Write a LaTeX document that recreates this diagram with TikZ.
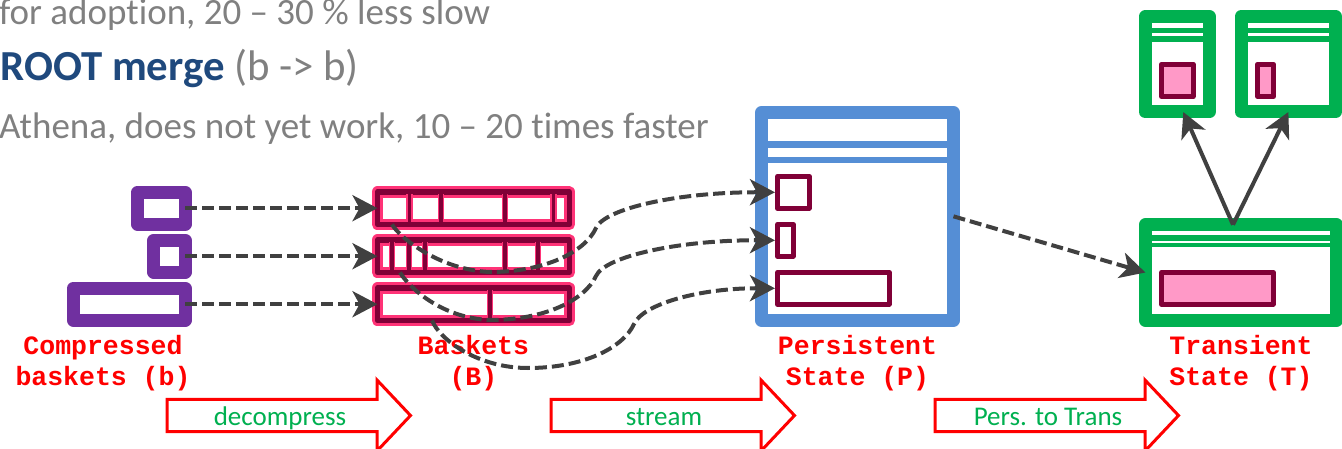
\documentclass[tikz,border=0pt]{standalone}
\usepackage{fontspec}
\setmainfont{Carlito}[Ligatures=NoCommon]
\newfontfamily\lblfont{Liberation Mono}
\usetikzlibrary{arrows.meta, positioning}

\definecolor{cpurple}{RGB}{112,48,160}
\definecolor{bskpink}{RGB}{255,51,119}
\definecolor{maroon}{RGB}{128,0,55}
\definecolor{pblue}{RGB}{85,142,213}
\definecolor{tgreen}{RGB}{0,176,80}
\definecolor{tpink}{RGB}{255,153,199}
\definecolor{arrgray}{RGB}{64,64,64}
\definecolor{notegray}{RGB}{128,128,128}
\definecolor{rootblue}{RGB}{31,73,125}

\begin{document}
\begin{tikzpicture}[x=1pt, y=1pt, node distance=15.5pt and 32pt,
    holder/.style={rectangle, draw=#1, line width=13pt, line join=round, inner sep=0pt, outer sep=0pt},
    item/.style={rectangle, draw=maroon, fill=#1, line width=5pt, line join=round, inner sep=0pt},
    basket/.style={rectangle, draw=bskpink, double=maroon, line width=3pt, double distance=5.5pt, line join=round, inner sep=0pt, outer sep=0pt, minimum width=191.8pt, minimum height=32.5pt},
    divider/.style={draw=bskpink, double=maroon, line width=1.7pt, double distance=3.3pt},
    stripe/.style={draw=#1, line width=6pt},
    arrow/.style={draw=arrgray, line width=4pt, -{Stealth[length=25pt, width=26pt, inset=7pt]}},
    dasharrow/.style={arrow, dash pattern=on 12pt off 5pt},
    flow/.style={draw=red, fill=white, line width=3pt},
    optext/.style={text=tgreen, font=\fontsize{27}{32}\selectfont, inner sep=0pt},
    lbl/.style={text=red, font=\lblfont\bfseries\fontsize{26.5}{31}\selectfont, align=center, inner sep=0pt},
    note/.style={text=notegray, font=\fontsize{37}{44}\selectfont, inner sep=0pt, anchor=base west}]

    \useasboundingbox (0,0) rectangle (1342,448);

    % slide text
    \node [note] (n1) at (-1,423) {for adoption, 20 – 30 \% less slow};
    \node [note] (n2) at (0.5,367) {\fontsize{42.8}{48}\selectfont\textcolor{rootblue}{\bfseries ROOT merge} (b -> b)};
    \node [note] (n3) at (-1,309.5) {Athena, does not yet work, 10 – 20 times faster};

    % compressed baskets
    \node [holder=cpurple, minimum width=47.7pt, minimum height=31.7pt] (c1) at (161.3,239.8) {};
    \node [holder=cpurple, minimum width=31.4pt, minimum height=31.7pt] (c2) at (169.5,191.8) {};
    \node [holder=cpurple, minimum width=112pt, minimum height=31.7pt] (c3) at (129.2,143.8) {};

    % baskets
    \node [basket] (bsk1) at (473.4,239.8) {};
    \node [basket, below=of bsk1] (bsk2) {};
    \node [basket, below=of bsk2] (bsk3) {};
    \foreach \y/\xs in {239.8/{409.3,441,505,553.3}, 191.8/{392,409,425,505,538}, 143.8/{490}}
        \foreach \x in \xs
            \draw [divider] (\x,\y+14) -- (\x,\y-14);

    % persistent state
    \node [holder=pblue, minimum width=192pt, minimum height=207.7pt] (ps) at (857.5,231.65) {};
    \draw [stripe=pblue, line width=7pt] (ps.west |- 0,303.8) -- (ps.east |- 0,303.8);
    \draw [stripe=pblue, line width=6.6pt] (ps.west |- 0,288) -- (ps.east |- 0,288);
    \node [item=white, minimum width=31.7pt, minimum height=31.7pt] (p1) at (793.3,255.7) {};
    \node [item=white, minimum width=15.7pt, minimum height=31.7pt] (p2) at (785.3,207.7) {};
    \node [item=white, minimum width=111.7pt, minimum height=31.7pt] (p3) at (833.3,159.7) {};

    % transient state
    \node [holder=tgreen, minimum width=191.2pt, minimum height=95.6pt] (T) at (1241,175.5) {};
    \node [holder=tgreen, minimum width=63.9pt, minimum height=95.6pt] (TL) at (1177.3,383.8) {};
    \node [holder=tgreen, minimum width=94.3pt, minimum height=95.6pt, right=of TL] (TR) {};
    \draw [stripe=tgreen] (T.west |- 0,210.3) -- (T.east |- 0,210.3);
    \draw [stripe=tgreen, line width=4.6pt] (T.west |- 0,203) -- (T.east |- 0,203);
    \foreach \n in {TL, TR} {
        \draw [stripe=tgreen, line width=5.6pt] (\n.west |- 0,417.5) -- (\n.east |- 0,417.5);
        \draw [stripe=tgreen] (\n.west |- 0,409.3) -- (\n.east |- 0,409.3);
    }
    \node [item=tpink, minimum width=31.7pt, minimum height=32.3pt] (tl1) at (1177.3,367.7) {};
    \node [item=tpink, minimum width=16pt, minimum height=32.3pt] (tr1) at (1265.5,367.7) {};
    \node [item=tpink, minimum width=111.7pt, minimum height=31.7pt] (t1) at (1217.3,159.7) {};

    % labels
    \node [lbl, anchor=base] (lbc) at (103,62.5) {Compressed\\baskets (b)};
    \node [lbl, anchor=base] (lbb) at (bsk3.south |- 0,62.5) {Baskets\\(B)};
    \node [lbl, anchor=base] (lbp) at (ps.south |- 0,62.5) {Persistent\\State (P)};
    \node [lbl, anchor=base] (lbt) at (T.south |- 0,62.5) {Transient\\State (T)};

    % operations
    \foreach \x/\op [count=\i] in {167/decompress, 551/stream, 935/{Pers. to Trans}} {
        \draw [flow] (\x,16.3) -- ++(210,0) -- ++(0,-19.3) -- ++(33.5,35.5) -- ++(-33.5,35.5) -- ++(0,-19.3) -- ++(-210,0) -- cycle;
        \node [optext, anchor=base] (op\i) at (\x+113,23) {\op};
    }

    % connectors
    \draw [dasharrow] (c1.east) -- (bsk1.west);
    \draw [dasharrow] (c2.east) -- (bsk2.west);
    \draw [dasharrow] (c3.east) -- (bsk3.west);
    \draw [dasharrow] ([xshift=14.5pt]bsk1.south west) .. controls (400,210) and (440,178) .. (490,176)
        .. controls (545,176) and (585,196) .. (596,220) .. controls (605,240) and (680,256) .. (p1.west);
    \draw [dasharrow] ([xshift=22.5pt]bsk2.south west) .. controls (408,162) and (440,130) .. (490,128)
        .. controls (545,128) and (585,148) .. (596,172) .. controls (605,192) and (680,208) .. (p2.west);
    \draw [dasharrow] ([xshift=54.5pt]bsk3.south west) .. controls (440,108) and (478,80) .. (528,80)
        .. controls (583,80) and (623,100) .. (634,124) .. controls (643,144) and (700,160) .. (p3.west);
    \draw [dasharrow] (ps.east) -- (T.west);
    \draw [arrow] ([xshift=-8pt]T.north) -- ([xshift=6pt]TL.south);
    \draw [arrow] ([xshift=-8pt]T.north) -- (TR.south);
\end{tikzpicture}
\end{document}
